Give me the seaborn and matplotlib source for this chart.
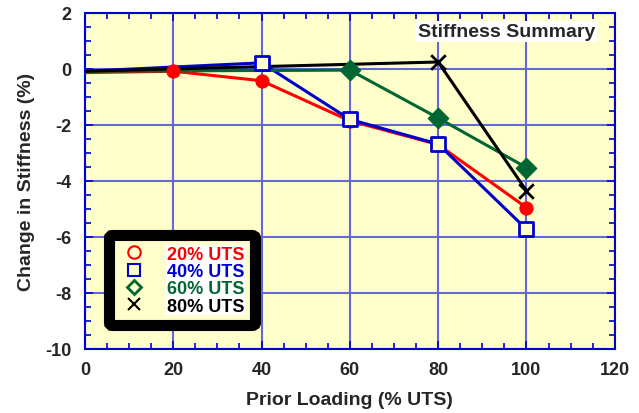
import matplotlib
matplotlib.use("Agg")
import matplotlib.pyplot as plt
from matplotlib.lines import Line2D
from matplotlib.ticker import MultipleLocator
import seaborn as sns
import pandas as pd

# Data
x_20 = [0, 20, 40, 60, 80, 100]
y_20 = [-0.13, -0.08, -0.42, -1.85, -2.70, -4.95]
x_40 = [0, 40, 60, 80, 100]
y_40 = [-0.08, 0.22, -1.80, -2.68, -5.72]
x_60 = [0, 60, 80, 100]
y_60 = [-0.08, -0.04, -1.75, -3.52]
x_80 = [0, 80, 100]
y_80 = [-0.08, 0.25, -4.35]
labels = ["20% UTS", "40% UTS", "60% UTS", "80% UTS"]

sns.set_theme(style="white")
plt.rcParams['font.family'] = ['Liberation Sans', 'DejaVu Sans']
plt.rcParams['font.weight'] = 'bold'
plt.rcParams['axes.unicode_minus'] = False

fig = plt.figure(figsize=(6.39, 4.14), dpi=100)
ax = fig.add_axes([0.133, 0.1546, 0.829, 0.8116])
ax.set_facecolor("#FFFFCC")

series = [
    (x_20, y_20, "#FF0000", "o", dict(s=90, color="#FF0000", edgecolor="#FF0000")),
    (x_40, y_40, "#0000CC", "s", dict(s=100, facecolor="#FFFFCC", edgecolor="#0000CC", linewidth=2)),
    (x_60, y_60, "#006633", "D", dict(s=110, color="#006633", edgecolor="#006633")),
    (x_80, y_80, "#000000", "x", dict(s=110, color="#000000", linewidth=2)),
]

for xs, ys, col, mk, mkw in series:
    df = pd.DataFrame({"x": xs, "y": ys})
    sns.lineplot(data=df, x="x", y="y", ax=ax, color=col, linewidth=2.2,
                 estimator=None, sort=False, zorder=3)
    sns.scatterplot(data=df.iloc[1:], x="x", y="y", ax=ax, marker=mk, zorder=4, **mkw)

ax.set_xlim(0, 120)
ax.set_ylim(-10, 2)
ax.xaxis.set_major_locator(MultipleLocator(20))
ax.xaxis.set_minor_locator(MultipleLocator(5))
ax.yaxis.set_major_locator(MultipleLocator(2))
ax.yaxis.set_minor_locator(MultipleLocator(0.5))
ax.grid(True, which="major", color="#6666DD", linewidth=1.5)
ax.set_axisbelow(True)
for s in ax.spines.values():
    s.set_color("#0000CC")
    s.set_linewidth(1.5)
ax.tick_params(which="both", direction="in", top=True, right=True, bottom=True, left=True,
               color="#0000CC", labelsize=13)
ax.tick_params(axis="x", which="major", pad=9)
ax.tick_params(axis="y", which="major", pad=10)
ax.tick_params(which="major", length=6, width=1.2)
ax.tick_params(which="minor", length=4, width=1.2)
for lab in ax.get_xticklabels() + ax.get_yticklabels():
    lab.set_fontweight("bold")

ax.set_xlabel("Prior Loading (% UTS)", fontsize=14, fontweight="bold", labelpad=9)
ax.set_ylabel("Change in Stiffness (%)", fontsize=14, fontweight="bold", labelpad=7)

ax.text(95.5, 1.35, "Stiffness Summary", fontsize=14, fontweight="bold", ha="center", va="center",
        bbox=dict(facecolor="white", edgecolor="none", pad=1.5), zorder=5)

handles = []
for xs, ys, col, mk, mkw in series:
    if mk == "o":
        h = Line2D([], [], linestyle="none", marker="o", markersize=9, markerfacecolor="none",
                   markeredgecolor=col, markeredgewidth=1.5)
    elif mk == "s":
        h = Line2D([], [], linestyle="none", marker="s", markersize=9, markerfacecolor="none",
                   markeredgecolor=col, markeredgewidth=1.5)
    elif mk == "D":
        h = Line2D([], [], linestyle="none", marker="D", markersize=7, markerfacecolor="none",
                   markeredgecolor=col, markeredgewidth=2)
    else:
        h = Line2D([], [], linestyle="none", marker="x", markersize=9,
                   markeredgecolor=col, markeredgewidth=1.5)
    handles.append(h)

leg = ax.legend(handles, labels, loc="lower left", bbox_to_anchor=(0.045, 0.07),
                frameon=True, fancybox=True, fontsize=13, handletextpad=1.0,
                borderpad=0.6, labelspacing=0.02, handlelength=1.6, borderaxespad=0)
fr = leg.get_frame()
fr.set_edgecolor("black")
fr.set_linewidth(8)
fr.set_facecolor("#FFFFCC")
fr.set_alpha(1)
for t, (xs, ys, col, mk, mkw) in zip(leg.get_texts(), series):
    t.set_color(col)
    t.set_fontweight("bold")
    t.set_bbox(dict(facecolor="white", edgecolor="none", pad=0.5))
leg.set_zorder(6)

fig.savefig("out.png", dpi=100)
